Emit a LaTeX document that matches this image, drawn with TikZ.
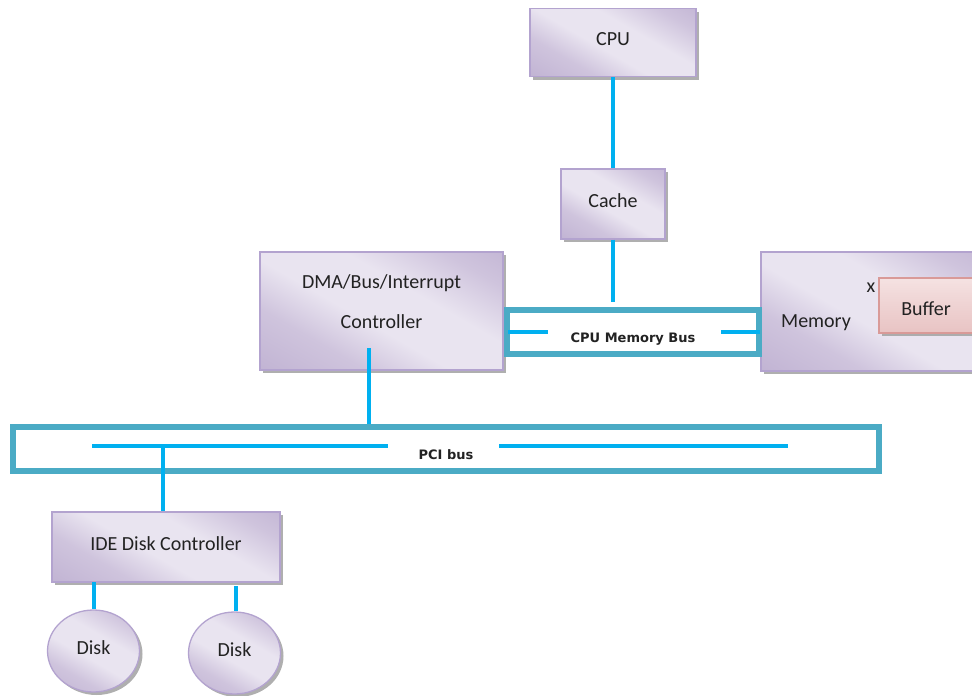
\documentclass[tikz,border=0pt]{standalone}
\usepackage{fontspec}
\setmainfont{Carlito}
\newfontfamily\busfont{DejaVu Sans}
\usetikzlibrary{shadows,shapes.geometric,calc}

\definecolor{lavDark}{HTML}{B4A4CA}
\definecolor{lavMid}{HTML}{CFC4DD}
\definecolor{lavLight}{HTML}{E9E4F0}
\definecolor{lavEdge}{HTML}{B3A3CF}
\definecolor{bufDark}{HTML}{E2B4B4}
\definecolor{bufLight}{HTML}{FBF1F1}
\definecolor{bufEdge}{HTML}{D99A98}
\definecolor{busEdge}{HTML}{4BABC5}
\definecolor{wire}{HTML}{00B0F0}
\definecolor{ink}{HTML}{222222}

\pgfdeclarehorizontalshading{lavender}{100bp}{%
  color(0bp)=(lavDark); color(32bp)=(lavMid); color(45bp)=(lavLight);
  color(60bp)=(lavLight); color(75bp)=(lavMid); color(100bp)=(lavDark)}
\pgfdeclareverticalshading{rosy}{100bp}{%
  color(0bp)=(bufDark); color(40bp)=(bufDark!60!bufLight); color(100bp)=(bufLight)}

\tikzset{
  labelfont/.style={text=ink, font=\fontsize{20}{24}\selectfont,
    text height=13pt, text depth=7pt},
  unit/.style={labelfont, draw=lavEdge, line width=1.3pt, shading=lavender, shading angle=60,
    inner sep=0pt,
    drop shadow={shadow xshift=3pt, shadow yshift=-3pt, fill=gray!70, opacity=0.9}},
  boxunit/.style={unit, rectangle},
  diskunit/.style={unit, ellipse},
  bufunit/.style={labelfont, text height=19pt, text depth=0pt,
    draw=bufEdge, line width=1.5pt, shading=rosy, inner sep=0pt,
    drop shadow={shadow xshift=3pt, shadow yshift=-3pt, fill=gray!70, opacity=0.9}},
  bus/.style={draw=busEdge, line width=6pt, fill=white},
  wireline/.style={draw=wire, line width=4pt},
  buslabel/.style={text=ink, font=\busfont\fontsize{13}{15}\selectfont\bfseries,
    text height=9.5pt, text depth=0pt, inner sep=0pt},
  plain/.style={labelfont, inner sep=0pt}
}

\begin{document}
\begin{tikzpicture}[x=1pt,y=-1pt]
\useasboundingbox (0,0) rectangle (972,696);

% processor side
\node[boxunit, minimum width=166, minimum height=68] (cpu) at (613,42.5) {CPU};
\node[boxunit, minimum width=104, minimum height=70] (cache) at (613,204) {Cache};

% controller box and its two text lines
\node[boxunit, minimum width=243, minimum height=118] (dma) at (381.5,311) {};
\node[plain] (dmatext1) at (381.5,285.5) {DMA/Bus/Interrupt};
\node[plain] (dmatext2) at (381.5,325.5) {Controller};

% memory with its buffer
\node[boxunit, minimum width=230, minimum height=119] (mem) at (876,311.5) {};
\node[plain] (memtext) at (816,324.5) {Memory};
\node[plain] (cross) at (871,289) {x};
\node[bufunit, minimum width=94, minimum height=55] (buf) at (926,305.5) {Buffer};

% memory bus
\node[bus, minimum width=252, minimum height=44] (membus) at (633,332) {};
\node[buslabel] (membuslabel) at (633,337.5) {CPU Memory Bus};
\coordinate (mbL1) at (508,332);
\coordinate (mbL2) at (548,332);
\coordinate (mbR1) at (721,332);
\coordinate (mbR2) at (760,332);
\draw[wireline] (mbL1) -- (mbL2);
\draw[wireline] (mbR1) -- (mbR2);

% PCI bus
\node[bus, minimum width=866, minimum height=44] (pci) at (446,449) {};
\node[buslabel] (pcilabel) at (446,454.5) {PCI bus};
\coordinate (pL1) at (92,446);
\coordinate (pL2) at (388,446);
\coordinate (pR1) at (499,446);
\coordinate (pR2) at (788,446);
\draw[wireline] (pL1) -- (pL2);
\draw[wireline] (pR1) -- (pR2);

% disk side
\node[boxunit, minimum width=228, minimum height=70] (ide) at (166,547) {IDE Disk Controller};
\node[diskunit, minimum width=92, minimum height=82] (disk1) at (93.5,651) {Disk};
\node[diskunit, minimum width=92, minimum height=82] (disk2) at (234.5,653) {Disk};

% links
\draw[wireline] (cpu.south) -- (cache.north);
\draw[wireline, shorten >=5pt] (cache.south) -- (cache.south |- membus.north);
\coordinate (dmaTap) at (369,348);
\draw[wireline] (dmaTap) -- (dmaTap |- pci.north);
\coordinate (pciTap) at (163,446);
\draw[wireline] (pciTap) -- (pciTap |- ide.north);
\coordinate (ideTap1) at (94,582);
\coordinate (ideTap2) at (236,586);
\draw[wireline] (ideTap1) -- (ideTap1 |- disk1.north);
\draw[wireline] (ideTap2) -- (ideTap2 |- disk2.north);
\end{tikzpicture}
\end{document}
